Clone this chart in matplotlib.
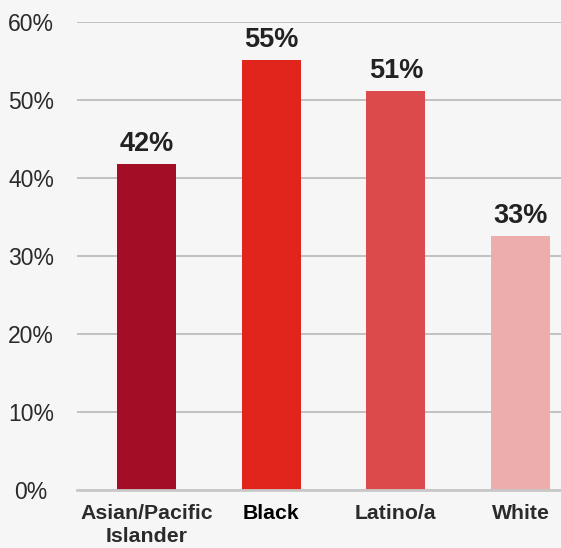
import matplotlib
matplotlib.use("Agg")
import matplotlib.pyplot as plt

categories = ["Asian/Pacific\nIslander", "Black", "Latino/a", "White"]
values = [41.8, 55.1, 51.1, 32.6]
value_labels = ["42%", "55%", "51%", "33%"]
colors = ["#A30D26", "#E2251C", "#DC4A4B", "#EDADAD"]
yticks = [0, 10, 20, 30, 40, 50, 60]
ytick_labels = ["0%", "10%", "20%", "30%", "40%", "50%", "60%"]

plt.rcParams['font.family'] = ['Liberation Sans', 'DejaVu Sans']
bg = "#F6F6F6"
fig = plt.figure(figsize=(5.61, 5.48), dpi=100, facecolor=bg)
ax = fig.add_axes([77/561, 58/548, (561-77)/561, (526-58)/548], facecolor=bg)

x = list(range(len(categories)))
bars = ax.bar(x, values, width=0.473, color=colors, zorder=3)

for xi, v, lab in zip(x, values, value_labels):
    ax.annotate(lab, (xi, v), xytext=(0, 5), textcoords="offset points",
                ha="center", va="bottom", fontsize=19.5, fontweight="bold",
                color="#222222", zorder=4)

ax.set_ylim(0, 60)
ax.set_xlim(-0.557, 3.325)
ax.set_yticks(yticks)
ax.set_yticklabels(ytick_labels, fontsize=16.5, color="#2a2a2a", ha="center")
ax.tick_params(axis="y", length=0, pad=33)
ax.set_xticks(x)
ax.set_xticklabels(categories, fontsize=15.3, fontweight="bold", color="#2b2b2b",
                   linespacing=1.25, va="top")
ax.tick_params(axis="x", length=0, pad=10)
ax.get_xticklabels()[1].set_color("#000000")

ax.grid(axis="y", color="#BDBDBD", linewidth=1.3, zorder=0)
for s in ["left", "right", "top"]:
    ax.spines[s].set_visible(False)
ax.spines["bottom"].set_color("#C8C8C8")
ax.spines["bottom"].set_linewidth(2)
ax.spines["bottom"].set_zorder(4)

fig.savefig("out.png", dpi=100, facecolor=bg)
